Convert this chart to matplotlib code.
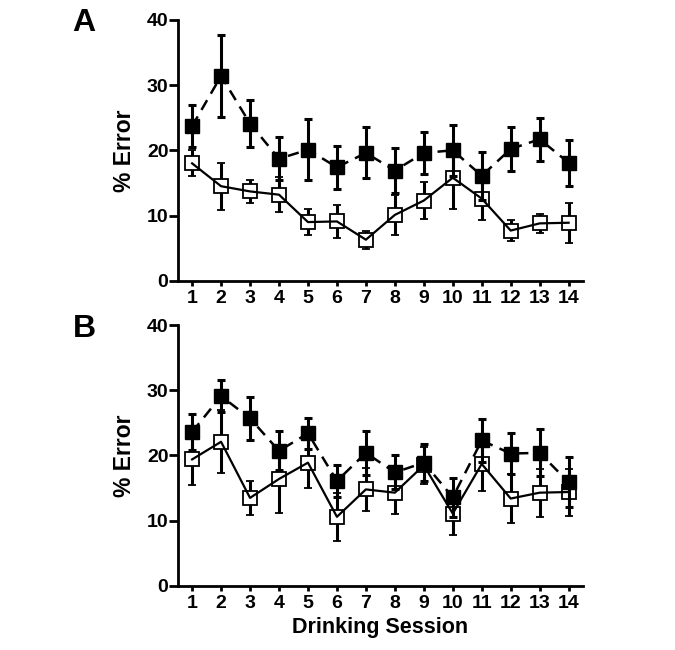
import matplotlib
matplotlib.use("Agg")
import matplotlib.pyplot as plt

plt.rcParams['font.family'] = ['Liberation Sans', 'DejaVu Sans']
plt.rcParams['font.weight'] = 'bold'

sessions = list(range(1, 15))

# Panel A
a_filled = [23.7, 31.4, 24.1, 18.7, 20.1, 17.4, 19.6, 16.9, 19.6, 20.0, 16.1, 20.2, 21.7, 18.1]
a_filled_err = [3.2, 6.3, 3.6, 3.3, 4.7, 3.3, 3.9, 3.5, 3.2, 3.9, 3.7, 3.3, 3.3, 3.5]
a_open = [18.0, 14.5, 13.7, 13.2, 9.0, 9.1, 6.3, 10.1, 12.3, 15.8, 12.6, 7.7, 8.8, 8.9]
a_open_err = [2.0, 3.6, 1.7, 2.7, 2.0, 2.5, 1.4, 3.1, 2.8, 4.8, 3.3, 1.6, 1.5, 3.1]

# Panel B
b_filled = [23.6, 29.1, 25.7, 20.7, 23.4, 16.1, 20.4, 17.4, 18.9, 13.6, 22.3, 20.3, 20.4, 15.9]
b_filled_err = [2.7, 2.5, 3.3, 3.0, 2.4, 2.4, 3.4, 2.6, 2.8, 3.0, 3.3, 3.1, 3.6, 3.8]
b_open = [19.4, 22.1, 13.5, 16.4, 18.9, 10.6, 14.8, 14.3, 18.5, 11.1, 18.7, 13.4, 14.3, 14.4]
b_open_err = [3.9, 4.8, 2.6, 5.2, 3.9, 3.7, 3.3, 3.2, 2.8, 3.3, 4.1, 3.8, 3.7, 3.6]

y_ticks = [0, 10, 20, 30, 40]

fig = plt.figure(figsize=(6.75, 6.5), dpi=100)
axA = fig.add_axes([0.264, 0.568, 0.599, 0.4015])
axB = fig.add_axes([0.264, 0.0985, 0.599, 0.4015])

def draw(ax, filled, ferr, opn, oerr, letter):
    ax.errorbar(sessions, opn, yerr=oerr, fmt='s', color='black', mfc='white',
                mec='black', mew=1.3, ms=9.5, ecolor='black', elinewidth=2.2,
                capsize=2.8, capthick=2.2, zorder=3)
    ax.plot(sessions, opn, '-', color='black', lw=1.6, zorder=4)
    ax.errorbar(sessions, filled, yerr=ferr, fmt='s', color='black', mfc='black',
                mec='black', ms=9.5, ecolor='black', elinewidth=2.2,
                capsize=2.8, capthick=2.2, zorder=5)
    ax.plot(sessions, filled, '--', color='black', lw=1.8, dashes=(4.5, 3), zorder=5)
    ax.set_xlim(0.52, 14.48)
    ax.set_ylim(0, 40)
    ax.set_yticks(y_ticks)
    ax.set_xticks(sessions)
    for s in ['top', 'right']:
        ax.spines[s].set_visible(False)
    for s in ['left', 'bottom']:
        ax.spines[s].set_linewidth(2.0)
    ax.tick_params(axis='both', which='major', direction='out', width=2.0,
                   labelsize=14)
    ax.tick_params(axis='y', length=6.5, pad=0.5)
    ax.tick_params(axis='x', length=3.8, pad=3)
    for lab in ax.get_xticklabels() + ax.get_yticklabels():
        lab.set_fontweight('bold')
    ax.set_ylabel('% Error', fontsize=16.5, fontweight='bold', labelpad=8)

draw(axA, a_filled, a_filled_err, a_open, a_open_err, 'A')
draw(axB, b_filled, b_filled_err, b_open, b_open_err, 'B')
axB.set_xlabel('Drinking Session', fontsize=15.5, fontweight='bold', labelpad=3)

fig.text(84/675, 1 - 23/650, 'A', fontsize=23, fontweight='bold', ha='center', va='center')
fig.text(84/675, 1 - 329/650, 'B', fontsize=23, fontweight='bold', ha='center', va='center')

fig.savefig('out.png', dpi=100)
